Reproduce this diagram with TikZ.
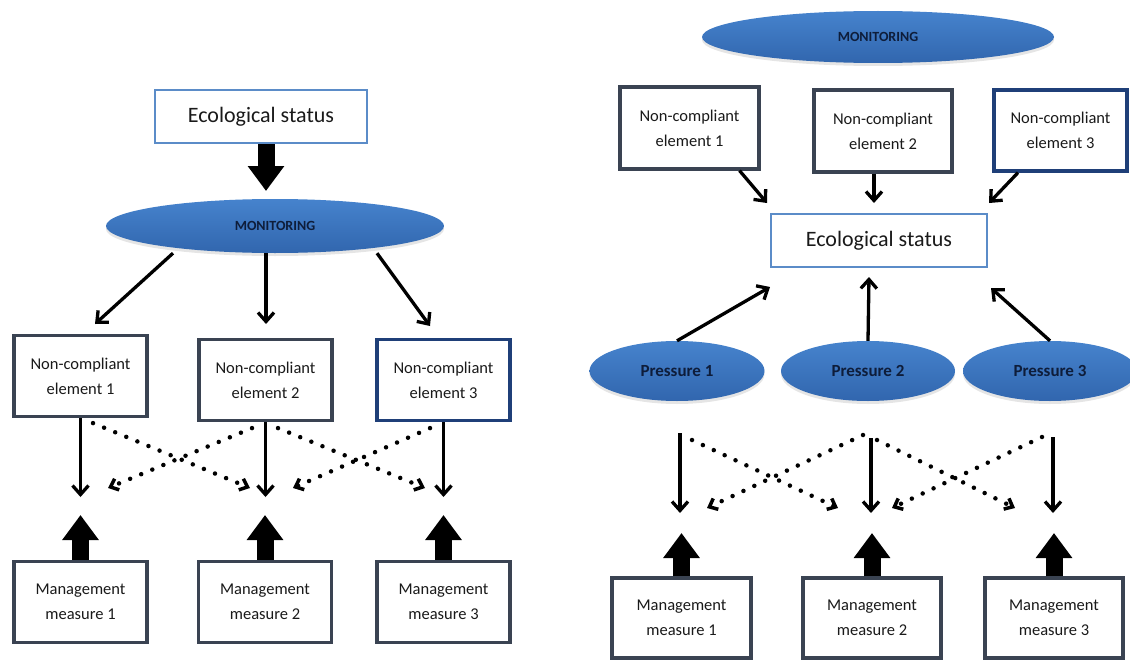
\documentclass[tikz,border=0pt]{standalone}
\usepackage{fontspec}
\setmainfont{Carlito}
\usetikzlibrary{shapes.geometric,arrows.meta,shadows}
\definecolor{boxgray}{HTML}{3A4352}
\definecolor{ecoblue}{HTML}{5B8CC8}
\definecolor{navyb}{HTML}{1F3F78}
\definecolor{blobtop}{HTML}{4683CD}
\definecolor{blobbot}{HTML}{3166AE}
\definecolor{blobtext}{HTML}{0E1D3A}
\definecolor{txt}{HTML}{1A1A1A}
\begin{document}
\begin{tikzpicture}[x=1pt,y=-1pt,
  nbox/.style={draw=boxgray, line width=3.2pt, fill=white, align=center, inner sep=0pt, text=txt,
    font=\fontsize{16.5}{25}\selectfont, minimum width=133pt, minimum height=81pt},
  ecobox/.style={draw=ecoblue, line width=2.8pt, fill=white, inner sep=0pt, text=txt,
    font=\fontsize{22}{26}\selectfont, minimum width=212pt, minimum height=53pt},
  blob/.style={ellipse, inner sep=0pt, top color=blobtop, bottom color=blobbot, draw=none, text=blobtext,
    drop shadow={shadow xshift=0pt, shadow yshift=-3pt, opacity=0.2, fill=gray}},
  montext/.style={font=\bfseries\fontsize{14}{15}\selectfont},
  prtext/.style={font=\bfseries\fontsize{17}{18}\selectfont},
  conn/.style={line width=3.3pt, draw=black, -{Straight Barb[length=9pt,width=16pt]}},
  dots/.style={line width=4.5pt, line cap=round, dash pattern=on 0pt off 12pt,
    -{Straight Barb[length=7pt,width=12pt,line width=3.5pt]}},
  block/.style={line width=17pt, draw=black, -{Triangle[length=25pt,width=35pt]}}
]
\useasboundingbox (0,0) rectangle (1130,661);
\fill[white] (0,0) rectangle (1130,661);
\clip (0,0) rectangle (1130,661);

% ---------- left panel ----------
\node[ecobox] (ecoL) at (261,116.5) {Ecological status};
\node[blob, montext, minimum width=338pt, minimum height=54pt] (monL) at (275,226) {MONITORING};
\node[nbox] (nc1L) at (80.5,376) {Non-compliant\\element 1};
\node[nbox] (nc2L) at (265.5,380) {Non-compliant\\element 2};
\node[nbox, draw=navyb] (nc3L) at (443.5,380) {Non-compliant\\element 3};
\node[nbox] (mm1L) at (80.5,602) {Management\\measure 1};
\node[nbox] (mm2L) at (265,602) {Management\\measure 2};
\node[nbox] (mm3L) at (443.5,602) {Management\\measure 3};

\coordinate (tEco) at (266,191);
\coordinate (m1) at (95,324);
\coordinate (m2) at (266,324);
\coordinate (m3) at (430,326);
\coordinate (s1) at (80.5,497);
\coordinate (s2) at (265.5,497);
\coordinate (s3) at (443.5,497);
\coordinate (d12) at (250,488);
\coordinate (d21) at (108,488);
\coordinate (d23) at (425,488);
\coordinate (d32) at (293,488);
\coordinate (u1) at (80.5,515);
\coordinate (u2) at (265,515);
\coordinate (u3) at (443.5,515);

\draw[block] ([xshift=5pt]ecoL.south) -- (tEco);
\draw[conn] ([xshift=-102pt]monL.south) -- (m1);
\draw[conn] ([xshift=-9pt]monL.south) -- (m2);
\draw[conn] ([xshift=102pt]monL.south) -- (m3);
\draw[conn] (nc1L.south) -- (s1);
\draw[conn] (nc2L.south) -- (s2);
\draw[conn] (nc3L.south) -- (s3);
\draw[dots] ([xshift=12.5pt,yshift=-5pt]nc1L.south) -- (d12);
\draw[dots] ([xshift=-13.5pt,yshift=-6pt]nc2L.south) -- (d21);
\draw[dots] ([xshift=12.5pt,yshift=-6pt]nc2L.south) -- (d23);
\draw[dots] ([xshift=-13.5pt,yshift=-6pt]nc3L.south) -- (d32);
\draw[block] (mm1L.north) -- (u1);
\draw[block] (mm2L.north) -- (u2);
\draw[block] (mm3L.north) -- (u3);

% ---------- right panel ----------
\node[blob, montext, minimum width=352pt, minimum height=52pt] (monR) at (878,37) {MONITORING};
\node[nbox, minimum width=139pt, minimum height=82pt] (nc1R) at (689.5,128) {Non-compliant\\element 1};
\node[nbox, minimum width=138pt, minimum height=82pt] (nc2R) at (883,131) {Non-compliant\\element 2};
\node[nbox, draw=navyb, minimum width=133pt, minimum height=81pt] (nc3R) at (1060.5,130.5) {Non-compliant\\element 3};
\node[ecobox, minimum width=216pt] (ecoR) at (879,240.5) {Ecological status};
\node[blob, prtext, minimum width=175pt, minimum height=60pt] (p1) at (677,371) {Pressure 1};
\node[blob, prtext, minimum width=174pt, minimum height=60pt] (p2) at (868,371) {Pressure 2};
\node[blob, prtext, minimum width=174pt, minimum height=60pt] (p3) at (1050,371) {Pressure 3};
\node[nbox, minimum width=139pt, minimum height=80pt] (mm1R) at (681.5,618) {Management\\measure 1};
\node[nbox, minimum width=138pt, minimum height=80pt] (mm2R) at (872,618) {Management\\measure 2};
\node[nbox, minimum width=138pt, minimum height=80pt] (mm3R) at (1054,618) {Management\\measure 3};

\coordinate (ta) at (767,203);
\coordinate (tb) at (874,203);
\coordinate (tc) at (989,203);
\coordinate (pa) at (770,287);
\coordinate (pb) at (869,277);
\coordinate (pc) at (991,288);
\coordinate (r1s) at (680,433);
\coordinate (r1e) at (680,513);
\coordinate (r2s) at (871,438);
\coordinate (r2e) at (871,513);
\coordinate (r3s) at (1053,437);
\coordinate (r3e) at (1053,513);
\coordinate (e12s) at (692,440);
\coordinate (e12e) at (838,508);
\coordinate (e21s) at (863,435);
\coordinate (e21e) at (707,508);
\coordinate (e23s) at (877,440);
\coordinate (e23e) at (1015,508);
\coordinate (e32s) at (1042,437);
\coordinate (e32e) at (892,508);
\coordinate (v1) at (681.5,533);
\coordinate (v2) at (872,533);
\coordinate (v3) at (1054,533);

\draw[conn] ([xshift=50pt]nc1R.south) -- (ta);
\draw[conn] ([xshift=-9pt]nc2R.south) -- (tb);
\draw[conn] ([xshift=-42.5pt]nc3R.south) -- (tc);
\draw[conn] (p1.north) -- (pa);
\draw[conn] (p2.north) -- (pb);
\draw[conn] (p3.north) -- (pc);
\draw[conn] (r1s) -- (r1e);
\draw[conn] (r2s) -- (r2e);
\draw[conn] (r3s) -- (r3e);
\draw[dots] (e12s) -- (e12e);
\draw[dots] (e21s) -- (e21e);
\draw[dots] (e23s) -- (e23e);
\draw[dots] (e32s) -- (e32e);
\draw[block] (mm1R.north) -- (v1);
\draw[block] (mm2R.north) -- (v2);
\draw[block] (mm3R.north) -- (v3);
\end{tikzpicture}
\end{document}
